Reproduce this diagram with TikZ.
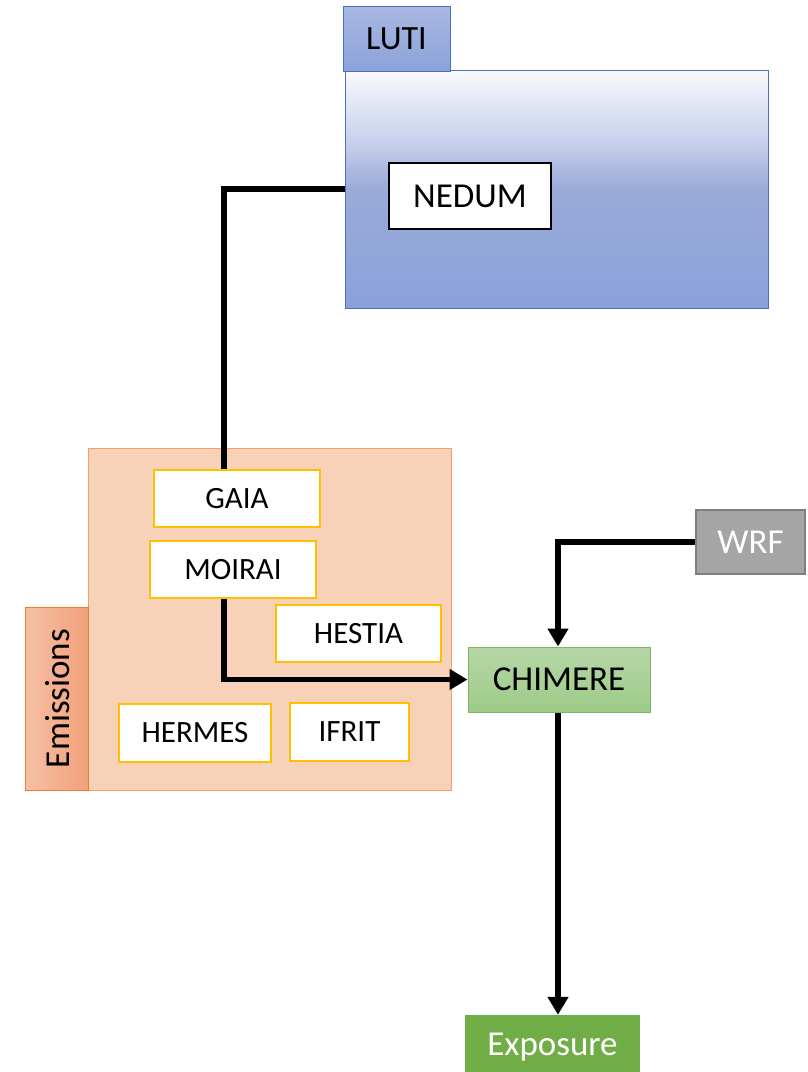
\documentclass[tikz,border=0pt]{standalone}
\usepackage{fontspec}
\setmainfont{Carlito}
\usetikzlibrary{arrows.meta}
\definecolor{lutiborder}{HTML}{4472C4}
\definecolor{lutitop}{HTML}{F9FAFD}
\definecolor{lutiq}{HTML}{C8D0EC}
\definecolor{lutimid}{HTML}{9AABD9}
\definecolor{lutibot}{HTML}{8AA1DA}
\definecolor{tabtop}{HTML}{A9B8E2}
\definecolor{tabbot}{HTML}{8CA2D9}
\definecolor{emisfill}{HTML}{F7D2B8}
\definecolor{emisborder}{HTML}{F2A070}
\definecolor{emtabL}{HTML}{F6C0A4}
\definecolor{emtabR}{HTML}{F2A07B}
\definecolor{emtabborder}{HTML}{ED7D31}
\definecolor{gold}{HTML}{FFC000}
\definecolor{chtop}{HTML}{B5D7A6}
\definecolor{chbot}{HTML}{9ECB88}
\definecolor{chborder}{HTML}{82B366}
\definecolor{wrffill}{HTML}{A5A5A5}
\definecolor{wrfborder}{HTML}{7F7F7F}
\definecolor{expfill}{HTML}{70AD47}
\pgfdeclareverticalshading{lutishade}{100bp}{color(0bp)=(lutibot); color(25bp)=(lutibot); color(50bp)=(lutimid); color(60bp)=(lutiq); color(75bp)=(lutitop); color(100bp)=(lutitop)}
\tikzset{
  box/.style={rectangle, inner sep=0pt, align=center},
  emod/.style={box, draw=gold, line width=2pt, fill=white, minimum height=57pt, font=\fontsize{31}{34}\selectfont},
  conn/.style={line width=5.5pt, draw=black},
  arr/.style={conn, -{Triangle[width=20pt,length=18pt]}},
}
\begin{document}
\begin{tikzpicture}[x=1pt,y=-1pt]
\useasboundingbox (0,0) rectangle (808,1072);
% LUTI
\node[box, draw=lutiborder, line width=1pt, shading=lutishade, minimum width=423pt, minimum height=238pt] (luti) at (556.5,189) {};
\node[box, draw=lutiborder, line width=1pt, top color=tabtop, bottom color=tabbot, minimum width=107pt, minimum height=65pt, font=\fontsize{34}{38}\selectfont] (lutitab) at (396.5,38.5) {LUTI};
\node[box, draw=black, line width=2pt, fill=white, minimum width=162pt, minimum height=66pt, font=\fontsize{35}{40}\selectfont] (nedum) at (470,196) {NEDUM};
% Emissions
\node[box, draw=emisborder, line width=1pt, fill=emisfill, minimum width=363pt, minimum height=342pt] (emis) at (269.5,619) {};
\node[box, draw=emtabborder, line width=0.8pt, left color=emtabL, right color=emtabR, minimum width=63pt, minimum height=183pt] (emistab) at (56.5,698.5) {};
\node[rotate=90, font=\fontsize{35}{38}\selectfont, inner sep=0pt] (emislabel) at (58,698.5) {Emissions};
\node[emod, minimum width=166pt] (gaia) at (237,498.5) {GAIA};
\node[emod, minimum width=166pt] (moirai) at (233,569.5) {MOIRAI};
\node[emod, minimum width=165pt] (hestia) at (358.5,633.5) {HESTIA};
\node[emod, minimum width=152pt, minimum height=58pt] (hermes) at (195,733) {HERMES};
\node[emod, minimum width=119pt, minimum height=58pt] (ifrit) at (349.5,732) {IFRIT};
% CHIMERE, WRF, Exposure
\node[box, draw=chborder, line width=1pt, top color=chtop, bottom color=chbot, minimum width=182pt, minimum height=65pt, font=\fontsize{35}{38}\selectfont] (chimere) at (559,679.5) {CHIMERE};
\node[box, draw=wrfborder, line width=1.5pt, fill=wrffill, text=white, minimum width=109pt, minimum height=64pt, font=\fontsize{35}{38}\selectfont] (wrf) at (750.5,542) {WRF};
\node[box, fill=expfill, text=white, minimum width=175pt, minimum height=65pt, font=\fontsize{35}{38}\selectfont] (exposure) at (552.5,1047.5) {Exposure};
% connectors
\draw[conn] (luti.west) -| ([xshift=-13pt]gaia.north);
\draw[arr] ([xshift=-9pt]moirai.south) |- (chimere.west);
\draw[arr] (wrf.west) -| ([xshift=-1pt]chimere.north);
\draw[arr] ([xshift=-1pt]chimere.south) -- ([xshift=-1pt]chimere.south |- exposure.north);
\end{tikzpicture}
\end{document}
